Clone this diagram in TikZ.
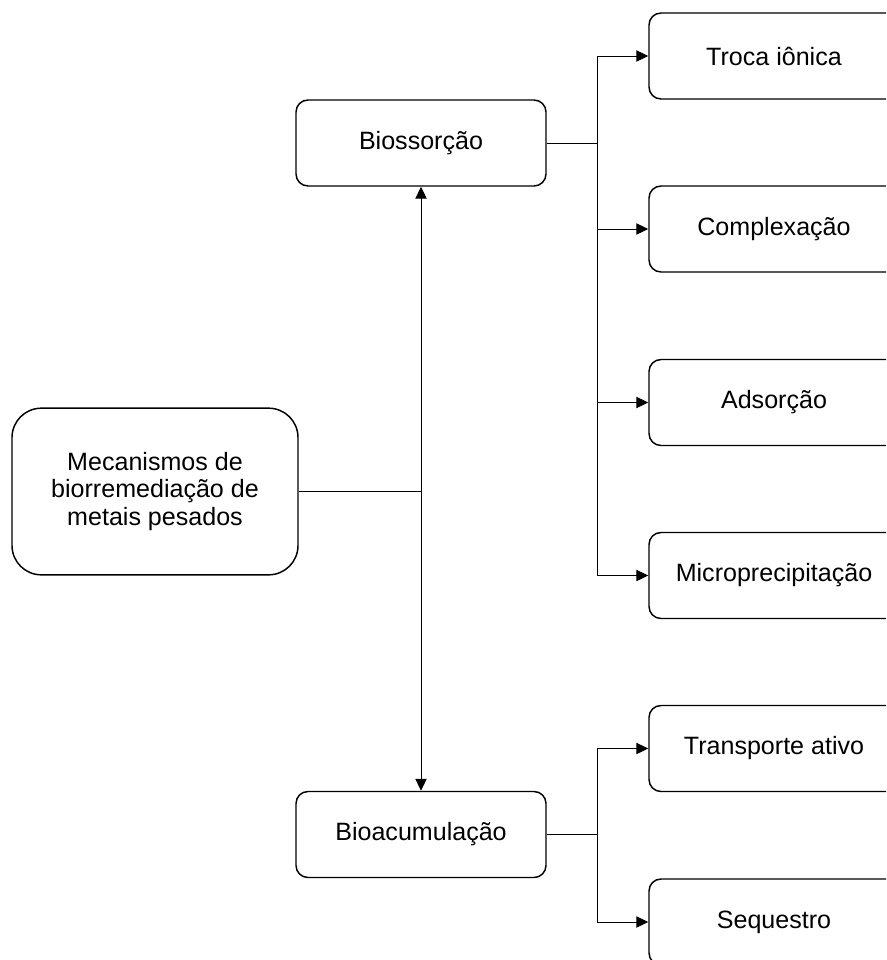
\documentclass[tikz,border=0pt]{standalone}
\usepackage{fontspec}
\setmainfont{Liberation Sans}
\usetikzlibrary{positioning}
\usetikzlibrary{arrows.meta}

\tikzset{
 box/.style={draw, rounded corners=9pt, line width=1.1pt, minimum width=187.5pt, minimum height=64.5pt, align=center, font=\fontsize{18.8}{20.8}\selectfont},
 bigbox/.style={box, rounded corners=22pt, minimum width=214.5pt, minimum height=125pt},
 link/.style={line width=0.75pt, -{Triangle[length=9pt,width=8.5pt]}},
 plain/.style={line width=0.75pt}
}

\begin{document}
\begin{tikzpicture}[x=0.75pt,y=-0.75pt]
 \useasboundingbox (0,0) rectangle (886,960);
 \clip (0,0) rectangle (886,960);
 \fill[white] (0,0) rectangle (886,960);
 \node[bigbox] (mec) at (155,491.5) {Mecanismos de\\biorremediação de\\metais pesados};
 \node[box] (bio) at (421,143) {Biossorção};
 \node[box] (bioac) at (421,834.5) {Bioacumulação};
 \node[box] (troca) at (774,56) {Troca iônica};
 \node[box] (compl) at (774,229) {Complexação};
 \node[box] (ads) at (774,402.5) {Adsorção};
 \node[box] (micro) at (774,575.5) {Microprecipitação};
 \node[box] (transp) at (774,748.5) {Transporte ativo};
 \node[box] (seq) at (774,922) {Sequestro};
 \coordinate (jmec) at (bio.south |- mec.east);
 \coordinate (jbio) at (597,143);
 \coordinate (jbioac) at (597,834.5);
 \draw[plain] (mec.east) -- (jmec);
 \draw[link] (jmec) -- (bio.south);
 \draw[link] (jmec) -- (bioac.north);
 \draw[plain] (bio.east) -- (jbio);
 \draw[link] (jbio) |- (troca.west);
 \draw[link] (jbio) |- (compl.west);
 \draw[link] (jbio) |- (ads.west);
 \draw[link] (jbio) |- (micro.west);
 \draw[plain] (bioac.east) -- (jbioac);
 \draw[link] (jbioac) |- (transp.west);
 \draw[link] (jbioac) |- (seq.west);
\end{tikzpicture}
\end{document}
